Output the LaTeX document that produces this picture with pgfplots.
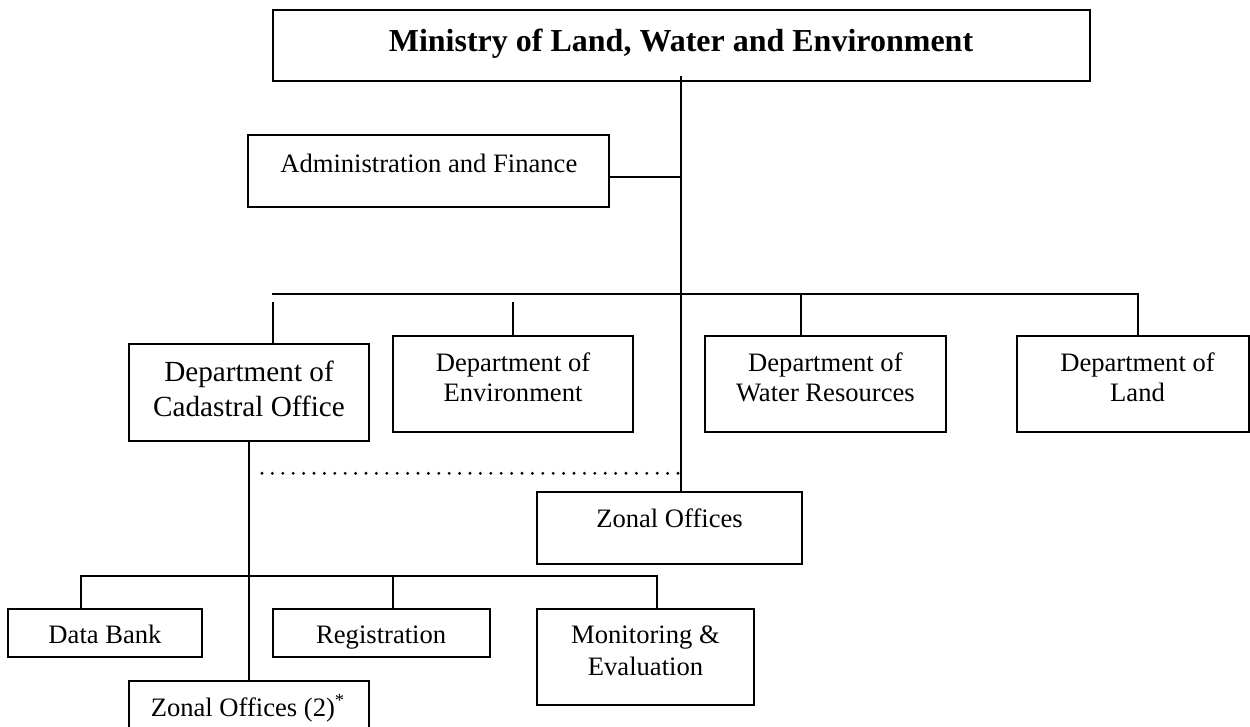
\documentclass[border=0pt]{standalone}
\usepackage{fontspec}
\setmainfont{Liberation Serif}
\usepackage{pgfplots}
\pgfplotsset{compat=1.18}
\newcommand{\rf}{\fontsize{13.3bp}{16bp}\selectfont}
\newcommand{\cf}{\fontsize{14.6bp}{17bp}\selectfont}
\newcommand{\tf}{\fontsize{16bp}{19bp}\selectfont\bfseries}
\pgfplotsset{ob/.style={black, line width=1bp, no markers, line join=miter, line cap=rect}}
\begin{document}
\begin{tikzpicture}
\begin{axis}[
  scale only axis, width=625bp, height=363.5bp,
  xmin=0, xmax=1250, ymin=0, ymax=727, y dir=reverse,
  hide axis, clip=false]
% Ministry box
\addplot[ob] coordinates {(272.7,10) (1090,10) (1090,81.5) (272.7,81.5)} -- cycle;
\node[anchor=base] at (axis cs:681,51.7) {\tf Ministry of Land, Water and Environment};
% main vertical
\addplot[ob, line cap=butt] coordinates {(681,76) (681,492.3)};
% Administration
\addplot[ob] coordinates {(248.3,135) (609.3,135) (609.3,207.3) (248.3,207.3)} -- cycle;
\node[anchor=base] at (axis cs:428.8,172) {\rf Administration and Finance};
\addplot[ob] coordinates {(609.3,177.3) (681,177.3)};
% bus
\addplot[ob] coordinates {(273,294) (1137.7,294) (1137.7,336)};
\addplot[ob, line cap=butt] coordinates {(273,302.3) (273,344.3)};
\addplot[ob, line cap=butt] coordinates {(513,302.3) (513,336)};
\addplot[ob, line cap=butt] coordinates {(801.3,294) (801.3,336)};
% Cadastral
\addplot[ob] coordinates {(129,344.3) (369.3,344.3) (369.3,440.7) (129,440.7)} -- cycle;
\node[anchor=base] at (axis cs:249,381.7) {\cf Department of};
\node[anchor=base] at (axis cs:249,416.7) {\cf Cadastral Office};
% Environment
\addplot[ob] coordinates {(393,336) (633,336) (633,432) (393,432)} -- cycle;
\node[anchor=base] at (axis cs:513,371.2) {\rf Department of};
\node[anchor=base] at (axis cs:513,401.7) {\rf Environment};
% Water
\addplot[ob] coordinates {(705,336) (945.7,336) (945.7,432) (705,432)} -- cycle;
\node[anchor=base] at (axis cs:825.4,371.2) {\rf Department of};
\node[anchor=base] at (axis cs:825.4,401.7) {\rf Water Resources};
% Land
\addplot[ob] coordinates {(1016.7,336) (1248.5,336) (1248.5,432) (1016.7,432)} -- cycle;
\node[anchor=base] at (axis cs:1137.5,371.2) {\rf Department of};
\node[anchor=base] at (axis cs:1137.5,401.7) {\rf Land};
% Cadastral down line
\addplot[ob, line cap=butt] coordinates {(249.3,440.7) (249.3,680.7)};
% dotted line
\addplot[black, no markers, line width=1.6bp, line cap=round, dash pattern=on 0pt off 5.2bp] coordinates {(262,473.3) (679,473.3)};
% Zonal Offices
\addplot[ob] coordinates {(537.3,492.3) (801.7,492.3) (801.7,564) (537.3,564)} -- cycle;
\node[anchor=base] at (axis cs:669.5,527.3) {\rf Zonal Offices};
% sub bus
\addplot[ob] coordinates {(81,609) (81,575.7) (657.3,575.7) (657.3,609)};
\addplot[ob, line cap=butt] coordinates {(393.3,575.7) (393.3,609)};
% Data Bank
\addplot[ob] coordinates {(8.3,609) (201.7,609) (201.7,657.3) (8.3,657.3)} -- cycle;
\node[anchor=base] at (axis cs:105,643.3) {\rf Data Bank};
% Registration
\addplot[ob] coordinates {(272.7,609) (489.7,609) (489.7,657.3) (272.7,657.3)} -- cycle;
\node[anchor=base] at (axis cs:381.2,643.3) {\rf Registration};
% Monitoring
\addplot[ob] coordinates {(537.3,609) (753.7,609) (753.7,705) (537.3,705)} -- cycle;
\node[anchor=base] at (axis cs:645.5,643.3) {\rf Monitoring \&};
\node[anchor=base] at (axis cs:645.5,675) {\rf Evaluation};
% Zonal Offices (2)
\addplot[ob, line cap=butt] coordinates {(129,730) (129,680.7) (369.3,680.7) (369.3,730)};
\node[anchor=base] at (axis cs:248,716.7) {\rf Zonal Offices (2)\textsuperscript{*}};
\end{axis}
\pgfresetboundingbox
\path (current axis.south west) rectangle (current axis.north east);
\end{tikzpicture}
\end{document}
